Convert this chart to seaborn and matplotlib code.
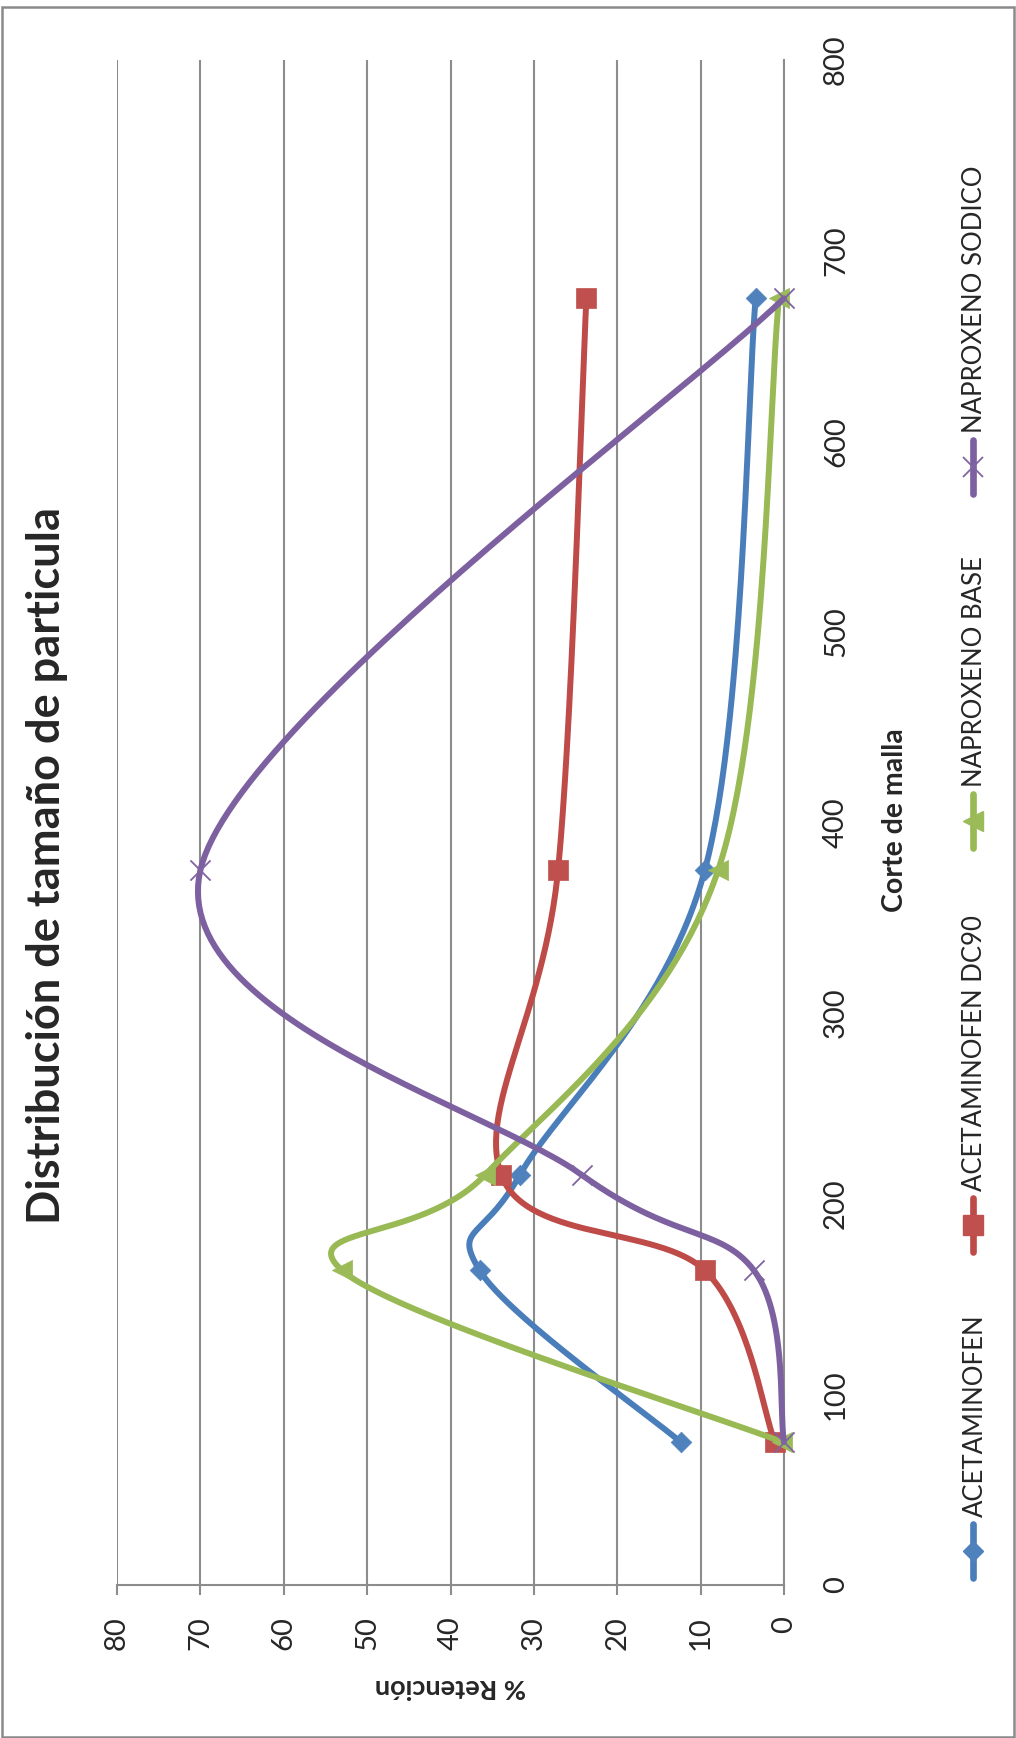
import numpy as np
import pandas as pd
import matplotlib
matplotlib.use("Agg")
import matplotlib.pyplot as plt
import seaborn as sns
from matplotlib.lines import Line2D
from matplotlib.patches import Rectangle

# Sieve cut points (µm) and retention (%) for each material
corte_malla = [75, 165, 215, 375, 675]
acetaminofen = [12.4, 36.5, 31.7, 9.5, 3.4]
acetaminofen_dc90 = [1.1, 9.5, 33.9, 27.1, 23.7]
naproxeno_base = [0.2, 53.0, 35.9, 7.9, 0.6]
naproxeno_sodico = [0.0, 3.6, 24.2, 70.0, 0.0]

series_names = ["ACETAMINOFEN", "ACETAMINOFEN DC90", "NAPROXENO BASE", "NAPROXENO SODICO"]
series_values = [acetaminofen, acetaminofen_dc90, naproxeno_base, naproxeno_sodico]
retention_ticks = [0, 10, 20, 30, 40, 50, 60, 70, 80]
corte_ticks = [0, 100, 200, 300, 400, 500, 600, 700, 800]

line_colors = ["#4A7EBB", "#BE4B48", "#98B954", "#7D60A0"]
marker_colors = ["#4F81BD", "#C0504D", "#9BBB59", "#8064A2"]
marker_shapes = ["D", "s", "<", "x"]
marker_sizes = [10.5, 14.5, 14.5, 14.5]

W, H = 1016, 1738
GRID = "#8c8c8c"


def smooth_curve(xs, ys, n=60):
    """Cubic Bezier smoothing through every point (Catmull-Rom style)."""
    pts = np.column_stack([xs, ys]).astype(float)
    ext = np.vstack([pts[0], pts, pts[-1]])
    t = np.linspace(0, 1, n)[1:, None]
    out = [pts[:1]]
    for i in range(len(pts) - 1):
        p0, p3 = ext[i + 1], ext[i + 2]
        b1 = p0 + (ext[i + 2] - ext[i]) / 6.0
        b2 = p3 - (ext[i + 3] - ext[i + 1]) / 6.0
        seg = ((1 - t) ** 3) * p0 + 3 * ((1 - t) ** 2) * t * b1 \
            + 3 * (1 - t) * (t ** 2) * b2 + (t ** 3) * p3
        out.append(seg)
    return np.vstack(out)


sns.set_style("white")
plt.rcParams["font.family"] = ["Lato", "DejaVu Sans"]

fig = plt.figure(figsize=(W / 100, H / 100), dpi=100)
fig.patch.set_facecolor("white")

# plot area in pixel units of the figure
left_px, right_px, top_px, bottom_px = 117, 784, 60, 1585
ax = fig.add_axes([left_px / W, (H - bottom_px) / H,
                   (right_px - left_px) / W, (bottom_px - top_px) / H])

for k, (name, vals) in enumerate(zip(series_names, series_values)):
    curve = smooth_curve(corte_malla, vals)
    df_curve = pd.DataFrame({"corte": curve[:, 0], "retencion": curve[:, 1]})
    sns.lineplot(data=df_curve, x="retencion", y="corte", sort=False,
                 estimator=None, color=line_colors[k], lw=4.3, ax=ax,
                 legend=False, zorder=3 + 2 * k, clip_on=False,
                 solid_capstyle="round", solid_joinstyle="round")
    df_pts = pd.DataFrame({"corte": corte_malla, "retencion": vals})
    if marker_shapes[k] == "x":
        sns.scatterplot(data=df_pts, x="retencion", y="corte", marker="x",
                        s=marker_sizes[k] ** 2, color=marker_colors[k],
                        linewidth=1.3, ax=ax, legend=False,
                        zorder=4 + 2 * k, clip_on=False)
    else:
        sns.scatterplot(data=df_pts, x="retencion", y="corte",
                        marker=marker_shapes[k], s=marker_sizes[k] ** 2,
                        color=marker_colors[k], edgecolor=marker_colors[k],
                        linewidth=0.5, ax=ax, legend=False,
                        zorder=4 + 2 * k, clip_on=False)

ax.set_xlim(80, 0)
ax.set_ylim(0, 800)
ax.set_xticks(retention_ticks)
ax.set_yticks(corte_ticks)
ax.set_xticklabels([str(v) for v in retention_ticks])
ax.set_yticklabels([str(v) for v in corte_ticks])

ax.grid(axis="x", color=GRID, lw=1.5)
ax.grid(axis="y", visible=False)
ax.set_axisbelow(True)
for side in ("top", "left"):
    ax.spines[side].set_visible(False)
for side in ("bottom", "right"):
    ax.spines[side].set_color(GRID)
    ax.spines[side].set_linewidth(1.5)

ax.yaxis.tick_right()
ax.tick_params(axis="x", direction="out", length=7.2, width=1.5, color=GRID,
               pad=15.5, labelsize=21, labelrotation=90, bottom=True)
ax.tick_params(axis="y", length=0, pad=28, labelsize=21, labelrotation=90,
               right=True, left=False)
plt.setp(ax.get_yticklabels(), va="center")

ax.set_xlabel("% Retención", fontsize=19.5, fontweight="bold", rotation=180,
              va="center", ha="center")
ax.xaxis.set_label_coords(0.5, (bottom_px - 1687) / (bottom_px - top_px))
ax.yaxis.set_label_position("right")
ax.set_ylabel("Corte de malla", fontsize=20.5, fontweight="bold", rotation=90,
              va="center", ha="center")
ax.yaxis.set_label_coords((895 - left_px) / (right_px - left_px),
                          (bottom_px - 820) / (bottom_px - top_px))

fig.text(47 / W, 1 - 866 / H, "Distribución de tamaño de particula",
         rotation=90, ha="center", va="center", fontsize=32.5, fontweight="bold")

# legend running up the right-hand side
legend_marker_y = [1551, 1225, 821, 467]
legend_x = 973
for k, name in enumerate(series_names):
    my = legend_marker_y[k]
    fig.add_artist(Line2D([legend_x / W] * 2, [1 - (my - 27) / H, 1 - (my + 27) / H],
                          color=line_colors[k], lw=4.8, solid_capstyle="round",
                          transform=fig.transFigure))
    if marker_shapes[k] == "x":
        fig.add_artist(Line2D([legend_x / W], [1 - my / H], marker="x",
                              markersize=marker_sizes[k], mew=1.3,
                              color=marker_colors[k], transform=fig.transFigure))
    else:
        fig.add_artist(Line2D([legend_x / W], [1 - my / H], marker=marker_shapes[k],
                              markersize=marker_sizes[k] * (1.0 if k == 0 else 0.95),
                              color=marker_colors[k], mec=marker_colors[k],
                              lw=0, transform=fig.transFigure))
    fig.text((legend_x + 2) / W, 1 - (my - 34) / H, name, rotation=90,
             ha="center", va="bottom", fontsize=18.5)

# outer chart frame
fig.add_artist(Rectangle((2 / W, 1 / H), (1014 - 2) / W, (1731.5 - 1) / H,
                         transform=fig.transFigure, fill=False,
                         edgecolor="#8a8a8a", lw=1.8))

fig.savefig("out.png", dpi=100, facecolor="white")
